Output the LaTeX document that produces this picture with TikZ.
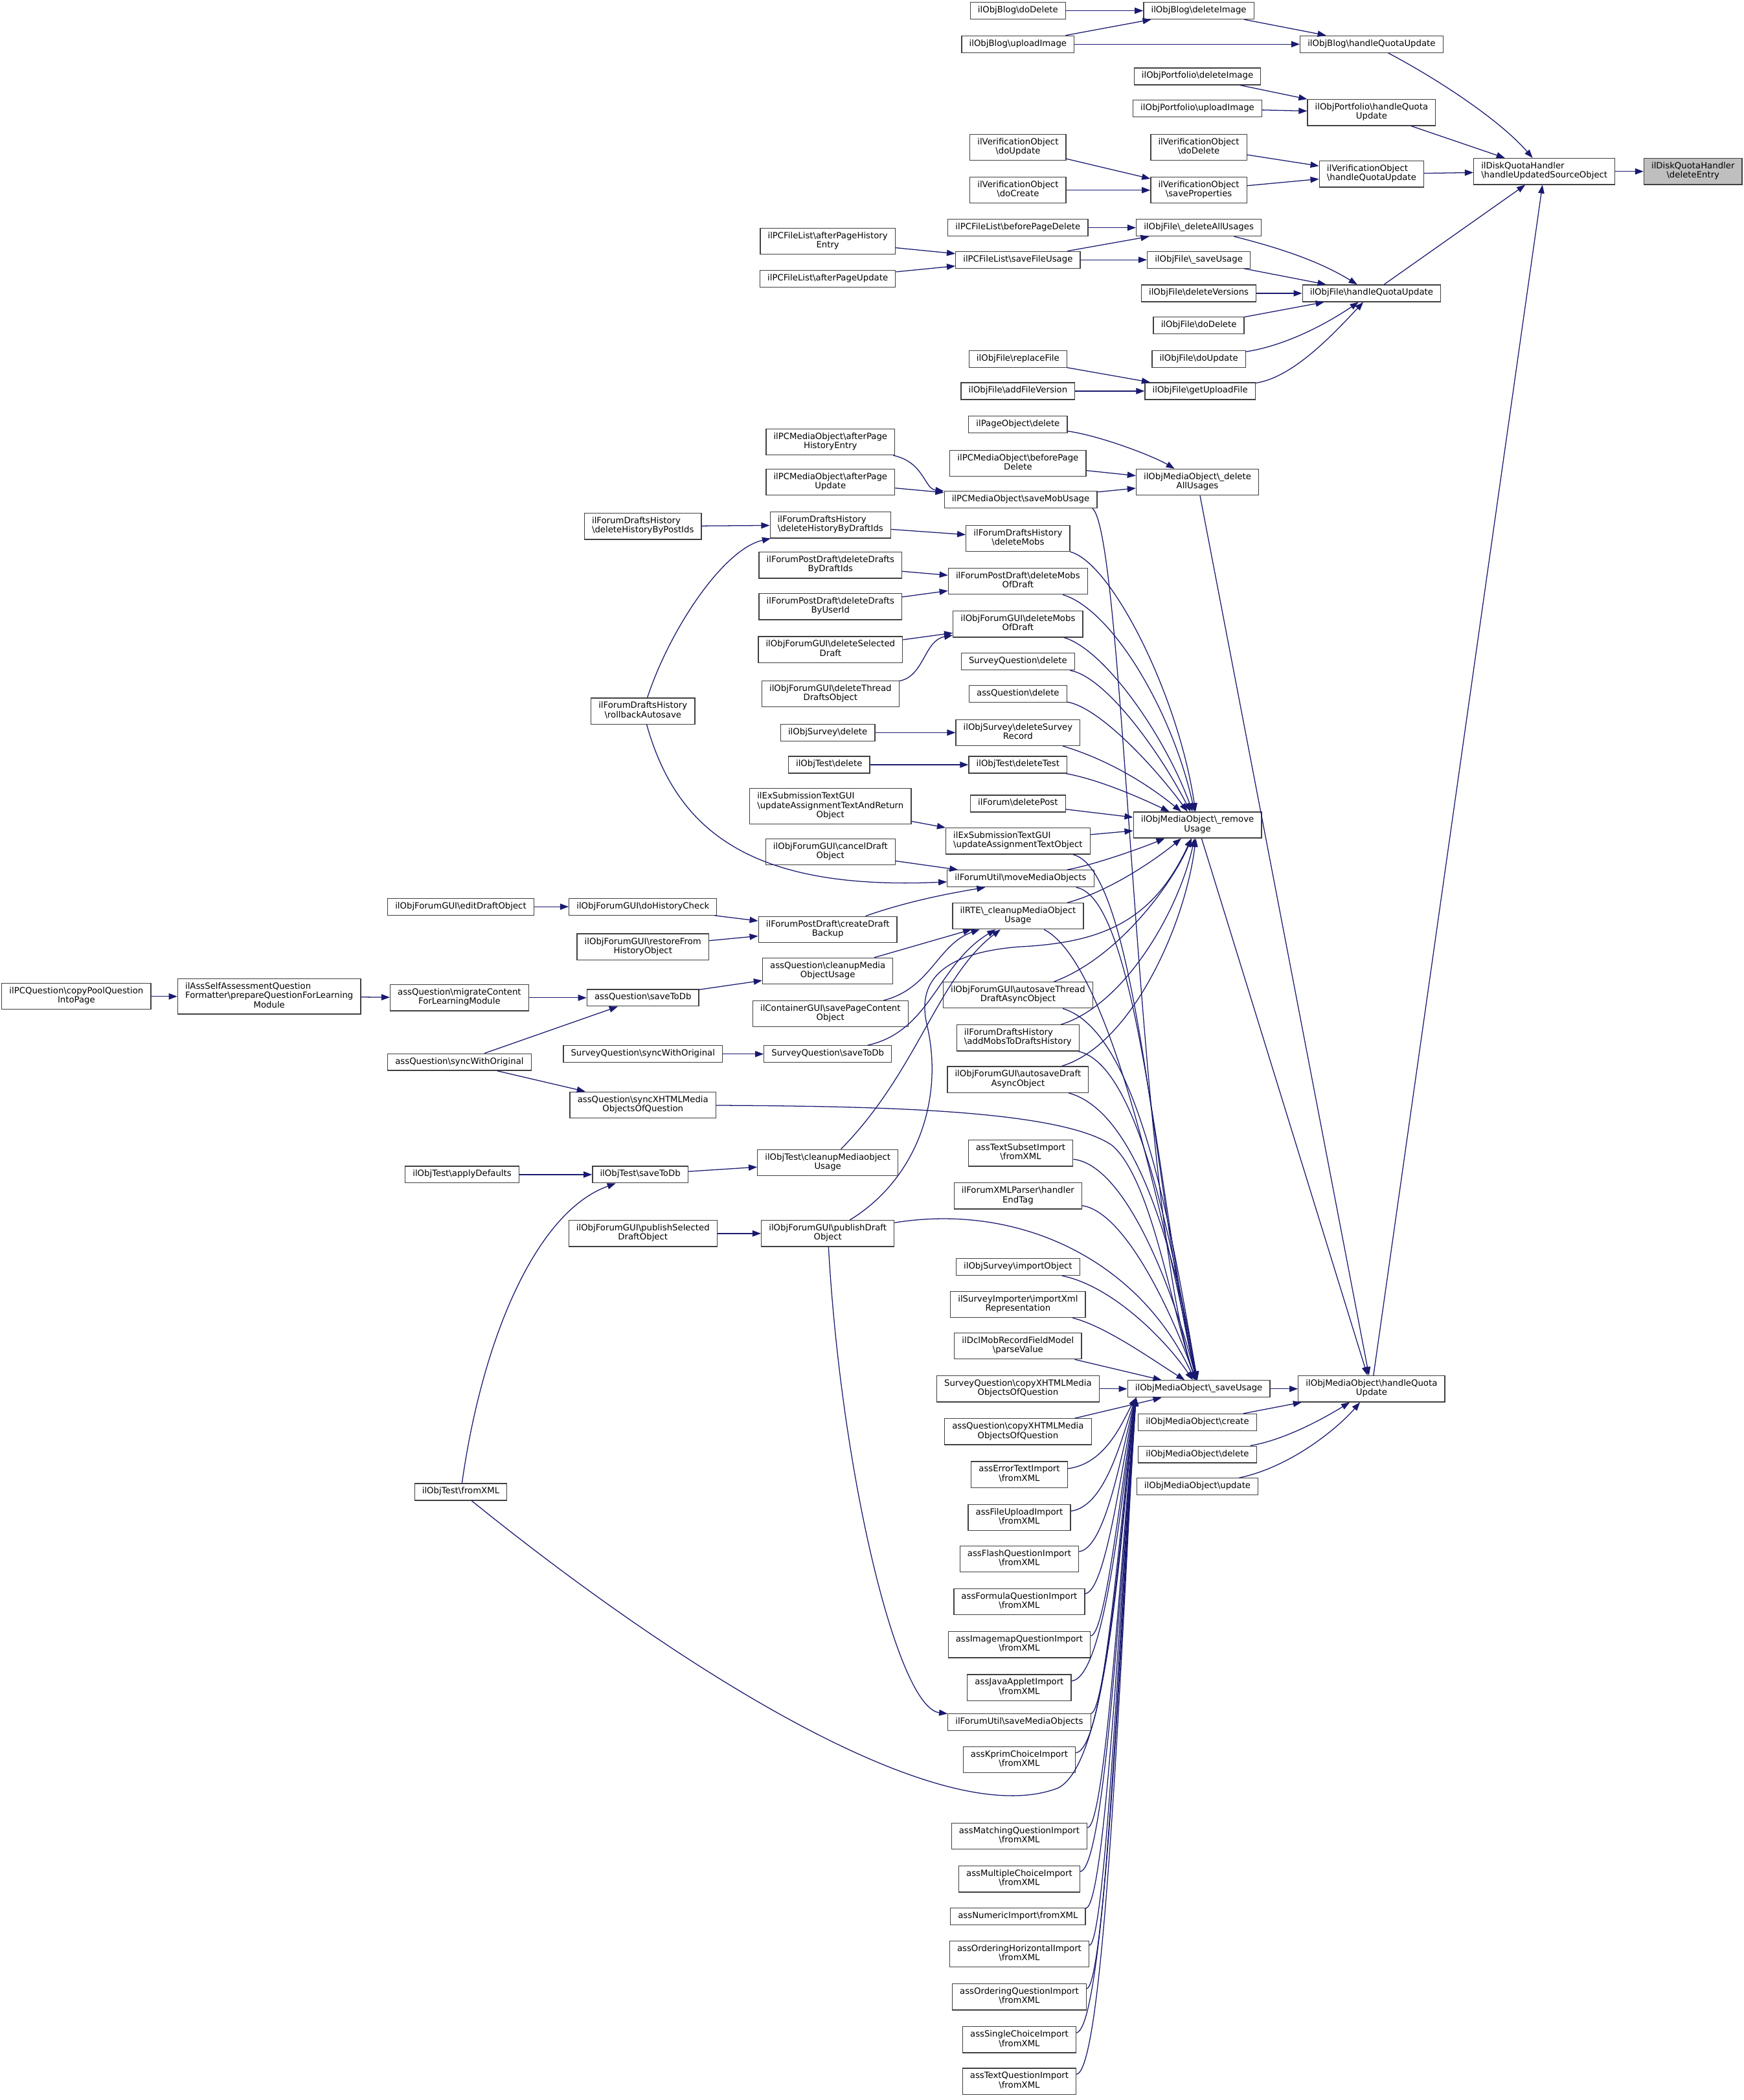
\documentclass[tikz,border=0pt]{standalone}
\usepackage{fontspec}
\setmainfont{DejaVu Sans}
\usetikzlibrary{arrows.meta}

\definecolor{edgeblue}{HTML}{191970}
\newcommand{\bsl}{\textbackslash}
\newcommand{\one}[1]{\begin{tabular}{@{}c@{}}#1\end{tabular}}
\newcommand{\two}[2]{\begin{tabular}{@{}l@{}}#1\\\multicolumn{1}{@{}c@{}}{#2}\end{tabular}}
\newcommand{\three}[3]{\begin{tabular}{@{}l@{}}#1\\#2\\\multicolumn{1}{@{}c@{}}{#3}\end{tabular}}

\begin{document}
\begin{tikzpicture}[x=0.02cm,y=-0.02cm,
  fn/.style={draw=black!75,fill=white,line width=0.35pt,inner xsep=3.2pt,inner ysep=1.6pt,
    font={\fontsize{3.65pt}{3.9pt}\selectfont}},
  root/.style={fn,fill=black!25},
  call/.style={draw=edgeblue,line width=0.35pt,-{Triangle[length=3.6pt,width=2.6pt]}}]

  \fill[white] (0,0) rectangle (1302,1568);
  \useasboundingbox (0,0) rectangle (1302,1568);

  % Root and quota handlers
  \node[root] (dqDelete) at (1264,128) {\two{ilDiskQuotaHandler}{\bsl deleteEntry}};
  \node[fn] (dqHandle) at (1153,128) {\two{ilDiskQuotaHandler}{\bsl handleUpdatedSourceObject}};
  \node[fn] (blogHQ) at (1024,33) {\one{ilObjBlog\bsl handleQuotaUpdate}};
  \node[fn] (portHQ) at (1024,84) {\two{ilObjPortfolio\bsl handleQuota}{Update}};
  \node[fn] (verHQ) at (1024,130) {\two{ilVerificationObject}{\bsl handleQuotaUpdate}};
  \node[fn] (fileHQ) at (1024,219) {\one{ilObjFile\bsl handleQuotaUpdate}};
  \node[fn] (mobHQ) at (1024,1037) {\two{ilObjMediaObject\bsl handleQuota}{Update}};

  % Column D
  \node[fn] (blogDelImg) at (895,8) {\one{ilObjBlog\bsl deleteImage}};
  \node[fn] (portDelImg) at (894,57) {\one{ilObjPortfolio\bsl deleteImage}};
  \node[fn] (portUpImg) at (894,81) {\one{ilObjPortfolio\bsl uploadImage}};
  \node[fn] (verDoDelete) at (895,110) {\two{ilVerificationObject}{\bsl doDelete}};
  \node[fn] (verSaveProps) at (895,142) {\two{ilVerificationObject}{\bsl saveProperties}};
  \node[fn] (fileDelAll) at (895,170) {\one{ilObjFile\bsl\_deleteAllUsages}};
  \node[fn] (fileSaveUsage) at (895,194) {\one{ilObjFile\bsl\_saveUsage}};
  \node[fn] (fileDelVers) at (895,219) {\one{ilObjFile\bsl deleteVersions}};
  \node[fn] (fileDoDelete) at (895,243) {\one{ilObjFile\bsl doDelete}};
  \node[fn] (fileDoUpdate) at (895,268) {\one{ilObjFile\bsl doUpdate}};
  \node[fn] (fileGetUpload) at (896,292) {\one{ilObjFile\bsl getUploadFile}};
  \node[fn] (mobDelAll) at (894,360) {\two{ilObjMediaObject\bsl\_delete}{AllUsages}};
  \node[fn] (mobRemove) at (894,616) {\two{ilObjMediaObject\bsl\_remove}{Usage}};
  \node[fn] (mobSave) at (895,1037) {\one{ilObjMediaObject\bsl\_saveUsage}};
  \node[fn] (mobCreate) at (894,1062) {\one{ilObjMediaObject\bsl create}};
  \node[fn] (mobDelete) at (894,1086) {\one{ilObjMediaObject\bsl delete}};
  \node[fn] (mobUpdate) at (894,1110) {\one{ilObjMediaObject\bsl update}};

  % Column E
  \node[fn] (blogDoDelete) at (760,8) {\one{ilObjBlog\bsl doDelete}};
  \node[fn] (blogUpImg) at (760,33) {\one{ilObjBlog\bsl uploadImage}};
  \node[fn] (verDoUpdate) at (760,110) {\two{ilVerificationObject}{\bsl doUpdate}};
  \node[fn] (verDoCreate) at (760,142) {\two{ilVerificationObject}{\bsl doCreate}};
  \node[fn] (pcflBefore) at (760,170) {\one{ilPCFileList\bsl beforePageDelete}};
  \node[fn] (pcflSave) at (760,194) {\one{ilPCFileList\bsl saveFileUsage}};
  \node[fn] (fileReplace) at (760,268) {\one{ilObjFile\bsl replaceFile}};
  \node[fn] (fileAddVers) at (760,292) {\one{ilObjFile\bsl addFileVersion}};
  \node[fn] (pageDelete) at (760,317) {\one{ilPageObject\bsl delete}};
  \node[fn] (pcmoBefore) at (760,346) {\two{ilPCMediaObject\bsl beforePage}{Delete}};
  \node[fn] (pcmoSaveMob) at (762,373) {\one{ilPCMediaObject\bsl saveMobUsage}};
  \node[fn] (fdhDelMobs) at (760,402) {\two{ilForumDraftsHistory}{\bsl deleteMobs}};
  \node[fn] (fpdDelMobs) at (760,434) {\two{ilForumPostDraft\bsl deleteMobs}{OfDraft}};
  \node[fn] (ofgDelMobs) at (760,466) {\two{ilObjForumGUI\bsl deleteMobs}{OfDraft}};
  \node[fn] (sqDelete) at (760,494) {\one{SurveyQuestion\bsl delete}};
  \node[fn] (aqDelete) at (760,518) {\one{assQuestion\bsl delete}};
  \node[fn] (osDelRecord) at (760,547) {\two{ilObjSurvey\bsl deleteSurvey}{Record}};
  \node[fn] (otDelTest) at (760,571) {\one{ilObjTest\bsl deleteTest}};
  \node[fn] (forumDelPost) at (760,600) {\one{ilForum\bsl deletePost}};
  \node[fn] (exUpdText) at (760,628) {\two{ilExSubmissionTextGUI}{\bsl updateAssignmentTextObject}};
  \node[fn] (fuMove) at (762,656) {\one{ilForumUtil\bsl moveMediaObjects}};
  \node[fn] (rteCleanup) at (760,684) {\two{ilRTE\bsl\_cleanupMediaObject}{Usage}};
  \node[fn] (ofgAutoThread) at (760,743) {\two{ilObjForumGUI\bsl autosaveThread}{DraftAsyncObject}};
  \node[fn] (fdhAddMobs) at (760,775) {\two{ilForumDraftsHistory}{\bsl addMobsToDraftsHistory}};
  \node[fn] (ofgAutoDraft) at (760,806) {\two{ilObjForumGUI\bsl autosaveDraft}{AsyncObject}};
  \node[fn] (textSubset) at (762,861) {\two{assTextSubsetImport}{\bsl fromXML}};
  \node[fn] (forumXml) at (760,893) {\two{ilForumXMLParser\bsl handler}{EndTag}};
  \node[fn] (osImport) at (760,946) {\one{ilObjSurvey\bsl importObject}};
  \node[fn] (surveyImporter) at (760,974) {\two{ilSurveyImporter\bsl importXml}{Representation}};
  \node[fn] (dclParse) at (760,1005) {\two{ilDclMobRecordFieldModel}{\bsl parseValue}};
  \node[fn] (sqCopyX) at (760,1037) {\two{SurveyQuestion\bsl copyXHTMLMedia}{ObjectsOfQuestion}};
  \node[fn] (aqCopyX) at (760,1069) {\two{assQuestion\bsl copyXHTMLMedia}{ObjectsOfQuestion}};
  \node[fn] (fuSave) at (761,1286) {\one{ilForumUtil\bsl saveMediaObjects}};
  \node[fn] (impNumeric) at (760,1431) {\one{assNumericImport\bsl fromXML}};
  \foreach \nm/\lbl/\y in {impError/assErrorTextImport/1101, impFileUpload/assFileUploadImport/1133,
      impFlash/assFlashQuestionImport/1164, impFormula/assFormulaQuestionImport/1196,
      impImagemap/assImagemapQuestionImport/1228, impJava/assJavaAppletImport/1260,
      impKprim/assKprimChoiceImport/1314, impMatching/assMatchingQuestionImport/1371,
      impMultiple/assMultipleChoiceImport/1403, impOrderHoriz/assOrderingHorizontalImport/1459,
      impOrdering/assOrderingQuestionImport/1491, impSingle/assSingleChoiceImport/1523,
      impText/assTextQuestionImport/1554}
    \node[fn] (\nm) at (761,\y) {\two{\lbl}{\bsl fromXML}};

  % Column F
  \node[fn] (pcflAfterHist) at (618,180) {\two{ilPCFileList\bsl afterPageHistory}{Entry}};
  \node[fn] (pcflAfterUpd) at (618,208) {\one{ilPCFileList\bsl afterPageUpdate}};
  \node[fn] (pcmoAfterHist) at (620,330) {\two{ilPCMediaObject\bsl afterPage}{HistoryEntry}};
  \node[fn] (pcmoAfterUpd) at (620,360) {\two{ilPCMediaObject\bsl afterPage}{Update}};
  \node[fn] (fdhDelByDraft) at (620,392) {\two{ilForumDraftsHistory}{\bsl deleteHistoryByDraftIds}};
  \node[fn] (fpdDelByDraft) at (620,422) {\two{ilForumPostDraft\bsl deleteDrafts}{ByDraftIds}};
  \node[fn] (fpdDelByUser) at (620,453) {\two{ilForumPostDraft\bsl deleteDrafts}{ByUserId}};
  \node[fn] (ofgDelSelected) at (620,485) {\two{ilObjForumGUI\bsl deleteSelected}{Draft}};
  \node[fn] (ofgDelThread) at (620,518) {\two{ilObjForumGUI\bsl deleteThread}{DraftsObject}};
  \node[fn] (osDelete) at (618,547) {\one{ilObjSurvey\bsl delete}};
  \node[fn] (otDelete) at (619,571) {\one{ilObjTest\bsl delete}};
  \node[fn] (exUpdReturn) at (620,602) {\three{ilExSubmissionTextGUI}{\bsl updateAssignmentTextAndReturn}{Object}};
  \node[fn] (ofgCancel) at (620,636) {\two{ilObjForumGUI\bsl cancelDraft}{Object}};
  \node[fn] (fpdCreateBackup) at (618,694) {\two{ilForumPostDraft\bsl createDraft}{Backup}};
  \node[fn] (aqCleanup) at (618,725) {\two{assQuestion\bsl cleanupMedia}{ObjectUsage}};
  \node[fn] (containerSave) at (620,757) {\two{ilContainerGUI\bsl savePageContent}{Object}};
  \node[fn] (sqSaveToDb) at (618,787) {\one{SurveyQuestion\bsl saveToDb}};
  \node[fn] (otCleanup) at (618,868) {\two{ilObjTest\bsl cleanupMediaobject}{Usage}};
  \node[fn] (ofgPublishDraft) at (618,921) {\two{ilObjForumGUI\bsl publishDraft}{Object}};

  % Column G
  \node[fn] (fdhDelByPost) at (480,393) {\two{ilForumDraftsHistory}{\bsl deleteHistoryByPostIds}};
  \node[fn] (fdhRollback) at (480,531) {\two{ilForumDraftsHistory}{\bsl rollbackAutosave}};
  \node[fn] (ofgHistCheck) at (480,677) {\one{ilObjForumGUI\bsl doHistoryCheck}};
  \node[fn] (ofgRestore) at (480,707) {\two{ilObjForumGUI\bsl restoreFrom}{HistoryObject}};
  \node[fn] (aqSaveToDb) at (480,745) {\one{assQuestion\bsl saveToDb}};
  \node[fn] (sqSync) at (480,787) {\one{SurveyQuestion\bsl syncWithOriginal}};
  \node[fn] (aqSyncX) at (480,825) {\two{assQuestion\bsl syncXHTMLMedia}{ObjectsOfQuestion}};
  \node[fn] (otSaveToDb) at (478,877) {\one{ilObjTest\bsl saveToDb}};
  \node[fn] (ofgPublishSel) at (480,921) {\two{ilObjForumGUI\bsl publishSelected}{DraftObject}};

  % Columns H, I, J
  \node[fn] (ofgEditDraft) at (344,677) {\one{ilObjForumGUI\bsl editDraftObject}};
  \node[fn] (aqMigrate) at (343,745) {\two{assQuestion\bsl migrateContent}{ForLearningModule}};
  \node[fn] (aqSync) at (343,793) {\one{assQuestion\bsl syncWithOriginal}};
  \node[fn] (otApplyDef) at (345,877) {\one{ilObjTest\bsl applyDefaults}};
  \node[fn] (otFromXml) at (344,1114) {\one{ilObjTest\bsl fromXML}};
  \node[fn] (selfAssess) at (201,744) {\three{ilAssSelfAssessmentQuestion}{Formatter\bsl prepareQuestionForLearning}{Module}};
  \node[fn] (pcqCopy) at (57,744) {\two{ilPCQuestion\bsl copyPoolQuestion}{IntoPage}};

  % Straight calls
  \foreach \a/\b in {dqHandle/dqDelete, portHQ/dqHandle, verHQ/dqHandle, fileHQ/dqHandle, mobHQ/dqHandle,
      blogDoDelete/blogDelImg, blogUpImg/blogDelImg, blogUpImg/blogHQ, blogDelImg/blogHQ,
      portDelImg/portHQ, portUpImg/portHQ, verDoDelete/verHQ, verSaveProps/verHQ,
      verDoUpdate/verSaveProps, verDoCreate/verSaveProps,
      pcflBefore/fileDelAll, pcflSave/fileDelAll, pcflSave/fileSaveUsage, pcflAfterHist/pcflSave, pcflAfterUpd/pcflSave,
      fileSaveUsage/fileHQ, fileDelVers/fileHQ, fileDoDelete/fileHQ, fileReplace/fileGetUpload, fileAddVers/fileGetUpload,
      pcmoBefore/mobDelAll, pcmoSaveMob/mobDelAll, pcmoAfterUpd/pcmoSaveMob, mobDelAll/mobHQ,
      fdhDelByPost/fdhDelByDraft, fdhDelByDraft/fdhDelMobs, fpdDelByDraft/fpdDelMobs, fpdDelByUser/fpdDelMobs,
      ofgDelSelected/ofgDelMobs, osDelete/osDelRecord, otDelete/otDelTest, forumDelPost/mobRemove,
      exUpdReturn/exUpdText, exUpdText/mobRemove, ofgCancel/fuMove, aqCleanup/rteCleanup, mobRemove/mobHQ,
      ofgHistCheck/fpdCreateBackup, ofgRestore/fpdCreateBackup, ofgEditDraft/ofgHistCheck,
      aqSaveToDb/aqCleanup, aqMigrate/aqSaveToDb, aqSync/aqSaveToDb, aqSync/aqSyncX,
      selfAssess/aqMigrate, pcqCopy/selfAssess, sqSync/sqSaveToDb,
      otApplyDef/otSaveToDb, otSaveToDb/otCleanup, ofgPublishSel/ofgPublishDraft,
      dclParse/mobSave, sqCopyX/mobSave, aqCopyX/mobSave, mobSave/mobHQ, mobCreate/mobHQ}
    \draw[call] (\a) -- (\b);

  % Curved calls, upper part
  \draw[call] (blogHQ) .. controls (1075,60) and (1120,90) .. (dqHandle);
  \draw[call] (fileDelAll) .. controls (955,185) and (985,195) .. (fileHQ);
  \draw[call] (fileDoUpdate) .. controls (960,258) and (990,242) .. (fileHQ);
  \draw[call] (fileGetUpload) .. controls (965,282) and (995,250) .. (fileHQ);
  \draw[call] (pageDelete) .. controls (820,325) and (860,340) .. (mobDelAll);
  \draw[call] (pcmoAfterHist) .. controls (690,345) and (690,365) .. (pcmoSaveMob);
  \draw[call] (pcmoSaveMob.-7) .. controls (840,400) and (848,900) .. (mobSave);

  % Curved calls into _removeUsage
  \draw[call] (fdhRollback) .. controls (500,470) and (540,410) .. (fdhDelByDraft);
  \draw[call] (fdhRollback) .. controls (505,620) and (560,665) .. (fuMove);
  \draw[call] (ofgDelThread) .. controls (690,505) and (690,478) .. (ofgDelMobs);
  \draw[call] (fdhDelMobs) .. controls (830,420) and (880,520) .. (mobRemove);
  \draw[call] (fpdDelMobs) .. controls (830,455) and (875,530) .. (mobRemove);
  \draw[call] (ofgDelMobs) .. controls (825,485) and (870,550) .. (mobRemove);
  \draw[call] (sqDelete) .. controls (825,505) and (865,560) .. (mobRemove);
  \draw[call] (aqDelete) .. controls (820,528) and (860,570) .. (mobRemove);
  \draw[call] (osDelRecord) .. controls (830,568) and (860,588) .. (mobRemove);
  \draw[call] (otDelTest) .. controls (820,582) and (850,595) .. (mobRemove);
  \draw[call] (fpdCreateBackup) .. controls (680,672) and (715,666) .. (fuMove.-166);
  \draw[call] (fuMove) .. controls (820,645) and (855,632) .. (mobRemove);
  \draw[call] (rteCleanup) .. controls (830,665) and (865,640) .. (mobRemove);
  \draw[call] (ofgAutoThread) .. controls (835,715) and (875,660) .. (mobRemove);
  \draw[call] (fdhAddMobs) .. controls (840,750) and (880,680) .. (mobRemove);
  \draw[call] (ofgAutoDraft) .. controls (845,780) and (885,690) .. (mobRemove);
  \draw[call] (ofgPublishDraft) .. controls (685,880) and (705,820) .. (692,765)
    .. controls (685,735) and (700,712) .. (760,707) .. controls (820,704) and (860,690) .. (mobRemove);

  % Curved calls into ilRTE
  \draw[call] (containerSave) .. controls (695,738) and (700,705) .. (rteCleanup);
  \draw[call] (sqSaveToDb) .. controls (695,770) and (700,720) .. (rteCleanup);
  \draw[call] (otCleanup) .. controls (685,800) and (700,730) .. (rteCleanup);

  % Curved calls into _saveUsage
  \draw[call] (exUpdText) .. controls (850,650) and (862,900) .. (mobSave);
  \draw[call] (fuMove) .. controls (850,670) and (865,900) .. (mobSave);
  \draw[call] (rteCleanup) .. controls (830,720) and (870,920) .. (mobSave);
  \draw[call] (ofgAutoThread) .. controls (850,770) and (875,920) .. (mobSave);
  \draw[call] (fdhAddMobs) .. controls (850,795) and (875,930) .. (mobSave);
  \draw[call] (ofgAutoDraft) .. controls (850,830) and (878,940) .. (mobSave);
  \draw[call] (aqSyncX) .. controls (650,826) and (790,828) .. (830,855)
    .. controls (860,880) and (875,980) .. (mobSave);
  \draw[call] (textSubset) .. controls (840,870) and (875,960) .. (mobSave);
  \draw[call] (forumXml) .. controls (840,905) and (875,980) .. (mobSave);
  \draw[call] (ofgPublishDraft) .. controls (760,898) and (850,940) .. (mobSave);
  \draw[call] (osImport) .. controls (830,960) and (870,1000) .. (mobSave);
  \draw[call] (surveyImporter) .. controls (825,990) and (860,1015) .. (mobSave);
  \draw[call] (ofgPublishDraft) .. controls (628,1100) and (670,1275) .. (fuSave);
  \foreach \nm/\y in {impError/1101, impFileUpload/1133, impFlash/1164, impFormula/1196,
      impImagemap/1228, impJava/1260, fuSave/1286, impKprim/1314, impMatching/1371,
      impMultiple/1403, impNumeric/1431, impOrderHoriz/1459, impOrdering/1491,
      impSingle/1523, impText/1554}
    \draw[call] (\nm) .. controls (826,\y-8) and (838,{1044+0.3*(\y-1044)}) .. (mobSave.-172);
  \draw[call] (otFromXml) .. controls (500,1240) and (700,1370) .. (790,1335)
    .. controls (830,1315) and (838,1120) .. (mobSave.-172);
  \draw[call] (otFromXml) .. controls (360,1000) and (400,905) .. (otSaveToDb);

  % Calls into handleQuotaUpdate
  \draw[call] (mobDelete) .. controls (960,1075) and (990,1058) .. (mobHQ);
  \draw[call] (mobUpdate) .. controls (965,1095) and (1000,1065) .. (mobHQ);
\end{tikzpicture}
\end{document}
